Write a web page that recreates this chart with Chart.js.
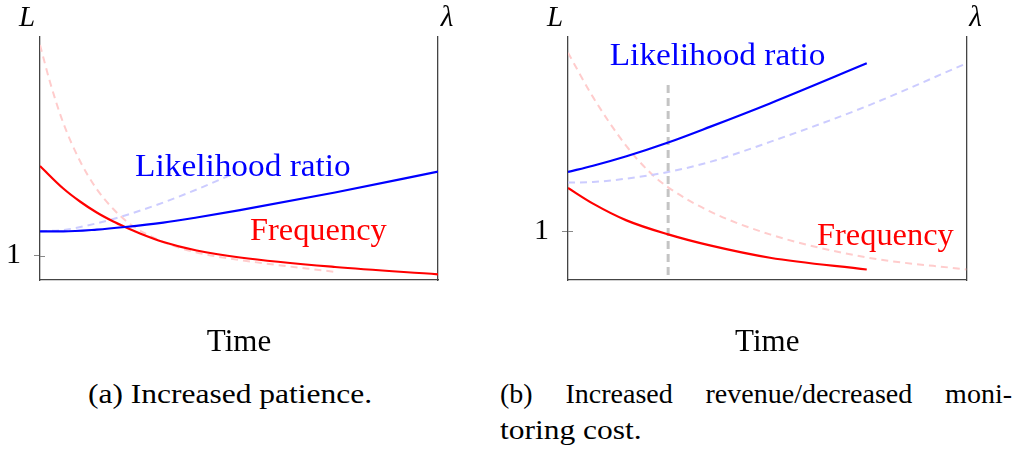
<!DOCTYPE html>
<html><head><meta charset="utf-8">
<script src="https://cdn.jsdelivr.net/npm/chart.js@4"></script>
<style>
html,body{margin:0;padding:0;background:#fff;overflow:hidden;width:1023px;height:451px;}
.box{position:absolute;}
.cap{position:absolute;font-family:"Liberation Serif",serif;font-size:28px;line-height:28px;color:#000;white-space:nowrap;}
.sx{display:inline-block;transform:scaleX(1.125);transform-origin:0 0;}
</style></head><body>
<div class="box" style="left:0;top:0;width:500px;height:365px"><canvas id="ca" width="500" height="365"></canvas></div>
<div class="box" style="left:528px;top:0;width:495px;height:365px"><canvas id="cb" width="495" height="365"></canvas></div>
<div class="cap" style="left:88px;top:380px"><span class="sx">(a) Increased patience.</span></div>
<div class="cap" style="left:500px;top:380px;width:512px;text-align:justify;text-align-last:justify;white-space:normal">(b) Increased revenue/decreased moni-</div>
<div class="cap" style="left:500px;top:416px"><span class="sx">toring cost.</span></div>
<script>
// ---- Panel (a): increased patience ----
const timeA_freq = [0, 0.585, 1.005, 1.425, 1.842, 2.136, 2.513, 3.098, 3.937, 5.025, 7.412, 10];
const freqA      = [1.895, 1.67, 1.54, 1.43, 1.34, 1.285, 1.22, 1.135, 1.05, 0.98, 0.885, 0.812];
const timeA_lr   = [0, 0.585, 1.425, 2.136, 3.098, 3.937, 5.025, 7.412, 10];
const lrA        = [1.242, 1.241, 1.259, 1.285, 1.329, 1.38, 1.453, 1.63, 1.838];
const timeA_freqOld = [0, 0.251, 0.585, 1.005, 1.425, 1.842, 2.261, 3.098, 3.937, 5.025, 7.487];
const freqAOld      = [3.105, 2.735, 2.325, 1.945, 1.665, 1.465, 1.315, 1.135, 1.03, 0.955, 0.832];
const timeA_lrOld   = [0, 0.585, 1.425, 2.136, 3.098, 3.937, 4.849];
const lrAOld        = [1.242, 1.255, 1.322, 1.40, 1.53, 1.66, 1.815];
// ---- Panel (b): increased revenue / decreased monitoring cost ----
const timeB_new  = [0, 0.628, 1.467, 2.513, 3.560, 5.068, 7.497];
const lrB        = [1.593, 1.655, 1.75, 1.887, 2.043, 2.277, 2.677];
const freqB      = [1.433, 1.277, 1.11, 0.97, 0.86, 0.737, 0.62];
const timeB_lrOld   = [0, 0.628, 1.467, 2.513, 3.560, 5.068, 7.455, 10];
const lrBOld        = [1.487, 1.493, 1.527, 1.593, 1.693, 1.893, 2.243, 2.677];
const timeB_freqOld = [0, 0.628, 1.467, 2.053, 2.513, 3.560, 5.068, 7.455, 10];
const freqBOld      = [2.783, 2.34, 1.85, 1.59, 1.44, 1.2, 0.97, 0.743, 0.62];
const markerB_time  = [2.513, 2.513];
const markerB_level = [2.46, 0.515];
// ---- axes ----
const yTicks = [1];
const yTickLabels = ['1'];
const xTitle = 'Time';
const yAxisLabel = 'L';
const rightAxisLabel = 'λ';
const labelLR = 'Likelihood ratio';
const labelFreq = 'Frequency';

const pts = (xs, ys) => xs.map((v, i) => ({x: v, y: ys[i]}));
const BLUE = '#0000ff', RED = '#ff0000', LBLUE = '#ccccff', PINK = '#ffcccc', GRAY = '#c4c4c4', AX = '#444';
const SERIF = '"Liberation Serif", serif';

function overlay(labels) {
  return {
    id: 'overlay',
    afterDatasetsDraw(chart) {
      const {ctx, chartArea: a, scales: {x, y}} = chart;
      ctx.save();
      ctx.strokeStyle = '#888'; ctx.lineWidth = 1;
      yTicks.forEach(v => {
        const py = Math.round(y.getPixelForValue(v)) + 0.5;
        ctx.beginPath(); ctx.moveTo(a.left, py); ctx.lineTo(a.left + 5, py); ctx.stroke();
      });
      ctx.fillStyle = '#000'; ctx.textAlign = 'center'; ctx.textBaseline = 'alphabetic';
      ctx.font = 'italic 29px ' + SERIF;
      ctx.fillText(yAxisLabel, a.left - 13, 26);
      ctx.fillText(rightAxisLabel, a.right + 9, 26);
      ctx.textAlign = 'left';
      ctx.font = '31px ' + SERIF;
      labels.forEach(l => {
        ctx.save();
        ctx.fillStyle = l.color;
        ctx.translate(x.getPixelForValue(l.x), y.getPixelForValue(l.y));
        ctx.scale(l.sx, 1);
        ctx.fillText(l.text, 0, 0);
        ctx.restore();
      });
      ctx.restore();
    }
  };
}

function makeChart(id, datasets, ymin, ymax, padRight, labels) {
  return new Chart(document.getElementById(id), {
    type: 'line',
    data: {datasets},
    options: {
      responsive: false, animation: false, events: [],
      layout: {padding: {left: 0, right: padRight, top: 37, bottom: 0}},
      plugins: {legend: {display: false}, tooltip: {enabled: false}},
      elements: {point: {radius: 0}, line: {cubicInterpolationMode: 'monotone', borderCapStyle: 'butt'}},
      scales: {
        x: {
          type: 'linear', min: 0, max: 10,
          ticks: {display: false}, grid: {display: false},
          border: {display: true, color: AX, width: 1.3},
          title: {display: true, text: xTitle, color: '#000', font: {family: SERIF, size: 31}, padding: {top: 0, bottom: 4}},
          afterFit(s) { s.height = 85; }
        },
        y: {
          type: 'linear', min: ymin, max: ymax, position: 'left',
          afterBuildTicks(s) { s.ticks = yTicks.map(v => ({value: v})); },
          ticks: {color: '#000', font: {family: SERIF, size: 30}, padding: 13,
                  callback: (v) => yTickLabels[yTicks.indexOf(v)] ?? ''},
          grid: {display: true, drawOnChartArea: false, drawTicks: true, tickLength: 6, color: '#888'},
          border: {display: true, color: AX, width: 1.3},
          afterFit(s) { s.width = 40; }
        },
        y2: {
          type: 'linear', min: ymin, max: ymax, position: 'right',
          ticks: {display: false}, grid: {display: false, drawTicks: false},
          border: {display: true, color: AX, width: 1.3},
          afterFit(s) { s.width = 0; }
        }
      }
    },
    plugins: [overlay(labels)]
  });
}

makeChart('ca', [
  {data: pts(timeA_lr, lrA), borderColor: BLUE, borderWidth: 2.2},
  {data: pts(timeA_freq, freqA), borderColor: RED, borderWidth: 2.2},
  {data: pts(timeA_lrOld, lrAOld), borderColor: LBLUE, borderWidth: 2, borderDash: [7, 5]},
  {data: pts(timeA_freqOld, freqAOld), borderColor: PINK, borderWidth: 2, borderDash: [7, 5]}
], 0.755, 3.185, 62, [
  {text: labelLR, x: 2.39, y: 1.795, color: BLUE, sx: 1.075},
  {text: labelFreq, x: 5.276, y: 1.155, color: RED, sx: 1.045}
]);

makeChart('cb', [
  {data: pts(timeB_new, lrB), borderColor: BLUE, borderWidth: 2.2},
  {data: pts(timeB_new, freqB), borderColor: RED, borderWidth: 2.2},
  {data: pts(timeB_lrOld, lrBOld), borderColor: LBLUE, borderWidth: 2, borderDash: [7, 5]},
  {data: pts(timeB_freqOld, freqBOld), borderColor: PINK, borderWidth: 2, borderDash: [7, 5]},
  {data: pts(markerB_time, markerB_level), borderColor: GRAY, borderWidth: 3, borderDash: [8, 5], cubicInterpolationMode: 'default', tension: 0}
], 0.515, 2.94, 56.5, [
  {text: labelLR, x: 1.048, y: 2.66, color: BLUE, sx: 1.075},
  {text: labelFreq, x: 6.249, y: 0.86, color: RED, sx: 1.045}
]);
</script>
</body></html>
